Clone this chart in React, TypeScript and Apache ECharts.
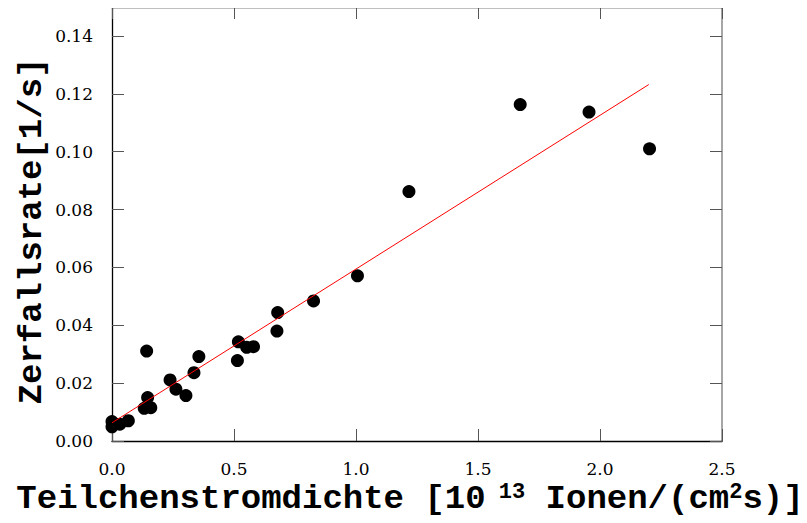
import React, { useEffect, useRef } from "react";
import * as echarts from "echarts";

// Measured decay rates against particle flux density
const fluxValues = [
  0.0, 0.0, 0.032, 0.067, 0.142, 0.146, 0.132, 0.159, 0.238, 0.262, 0.303,
  0.336, 0.356, 0.514, 0.518, 0.552, 0.58, 0.676, 0.679, 0.826, 1.006, 1.217,
  1.673, 1.955, 2.203,
];
const rateValues = [
  0.0067, 0.0049, 0.0058, 0.007, 0.0311, 0.015, 0.0113, 0.0115, 0.0211,
  0.0179, 0.0157, 0.0236, 0.0292, 0.0278, 0.0343, 0.0324, 0.0326, 0.038,
  0.0444, 0.0484, 0.0571, 0.0862, 0.1163, 0.1137, 0.101,
];

// Linear fit, drawn between its two end points
const fitX = [0.0, 2.2];
const fitY = [0.0063, 0.1232];

const xTicks = [0, 0.5, 1.0, 1.5, 2.0, 2.5];
const yTicks = [0, 0.02, 0.04, 0.06, 0.08, 0.1, 0.12, 0.14];

const tickFont = "DejaVu Serif";
const titleFont = "Liberation Mono, DejaVu Sans Mono, monospace";

export default function App() {
  const ref = useRef<HTMLDivElement>(null);

  useEffect(() => {
    if (!ref.current) return;
    const chart = echarts.init(ref.current, null, { renderer: "svg" });

    const points = fluxValues.map((x, i) => [x, rateValues[i]]);
    const fitLine = fitX.map((x, i) => [x, fitY[i]]);

    const xBase = {
      type: "value" as const,
      min: xTicks[0],
      max: xTicks[xTicks.length - 1],
      interval: 0.5,
      splitLine: { show: false },
      axisTick: { inside: true, length: 12, lineStyle: { color: "#555", width: 1 } },
    };
    const yBase = {
      type: "value" as const,
      min: yTicks[0],
      max: 0.15,
      interval: 0.02,
      splitLine: { show: false },
      axisTick: { inside: true, length: 12, lineStyle: { color: "#555", width: 1 } },
    };

    chart.setOption({
      animation: false,
      backgroundColor: "#ffffff",
      textStyle: { fontFamily: tickFont },
      grid: { left: 112, top: 7, width: 610, height: 434 },
      xAxis: [
        {
          ...xBase,
          position: "bottom",
          axisLine: { onZero: false, lineStyle: { color: "#000", width: 1.3 } },
          axisLabel: {
            margin: 19,
            color: "#000",
            fontFamily: tickFont,
            fontSize: 17,
            formatter: (v: number) => v.toFixed(1),
          },
        },
        {
          ...xBase,
          position: "top",
          axisLine: { onZero: false, lineStyle: { color: "#000", width: 1.3 } },
          axisLabel: { show: false },
        },
      ],
      yAxis: [
        {
          ...yBase,
          position: "left",
          axisLine: { onZero: false, lineStyle: { color: "#000", width: 1.3 } },
          axisLabel: {
            margin: 19,
            color: "#000",
            fontFamily: tickFont,
            fontSize: 17,
            formatter: (v: number) => (yTicks.some((t) => Math.abs(t - v) < 1e-9) ? v.toFixed(2) : ""),
          },
        },
        {
          ...yBase,
          position: "right",
          axisLine: { onZero: false, lineStyle: { color: "#888", width: 1.5 } },
          axisLabel: { show: false },
        },
      ],
      series: [
        {
          type: "line",
          data: fitLine,
          showSymbol: false,
          symbol: "none",
          lineStyle: { color: "#ff0000", width: 1 },
          z: 3,
        },
        {
          type: "scatter",
          data: points,
          symbol: "circle",
          symbolSize: 13,
          itemStyle: { color: "#000000", opacity: 1 },
          z: 2,
        },
      ],
      graphic: [
        {
          type: "text",
          x: 32,
          y: 231,
          rotation: Math.PI / 2,
          style: {
            text: "Zerfallsrate[1/s]",
            font: `bold 34px ${titleFont}`,
            fill: "#000",
            align: "center",
            verticalAlign: "middle",
          },
        },
        {
          type: "text",
          x: 410,
          y: 499,
          style: {
            text: "Teilchenstromdichte [10{sup| 13} Ionen/(cm{sup|2}s)]",
            font: `bold 34px ${titleFont}`,
            fill: "#000",
            align: "center",
            verticalAlign: "middle",
            rich: {
              sup: {
                font: `bold 22px ${titleFont}`,
                fill: "#000",
                verticalAlign: "bottom",
                padding: [0, 0, 14, 0],
              },
            },
          },
        },
      ],
    });

    return () => chart.dispose();
  }, []);

  return <div ref={ref} style={{ width: 807, height: 523, margin: -8 }} />;
}
